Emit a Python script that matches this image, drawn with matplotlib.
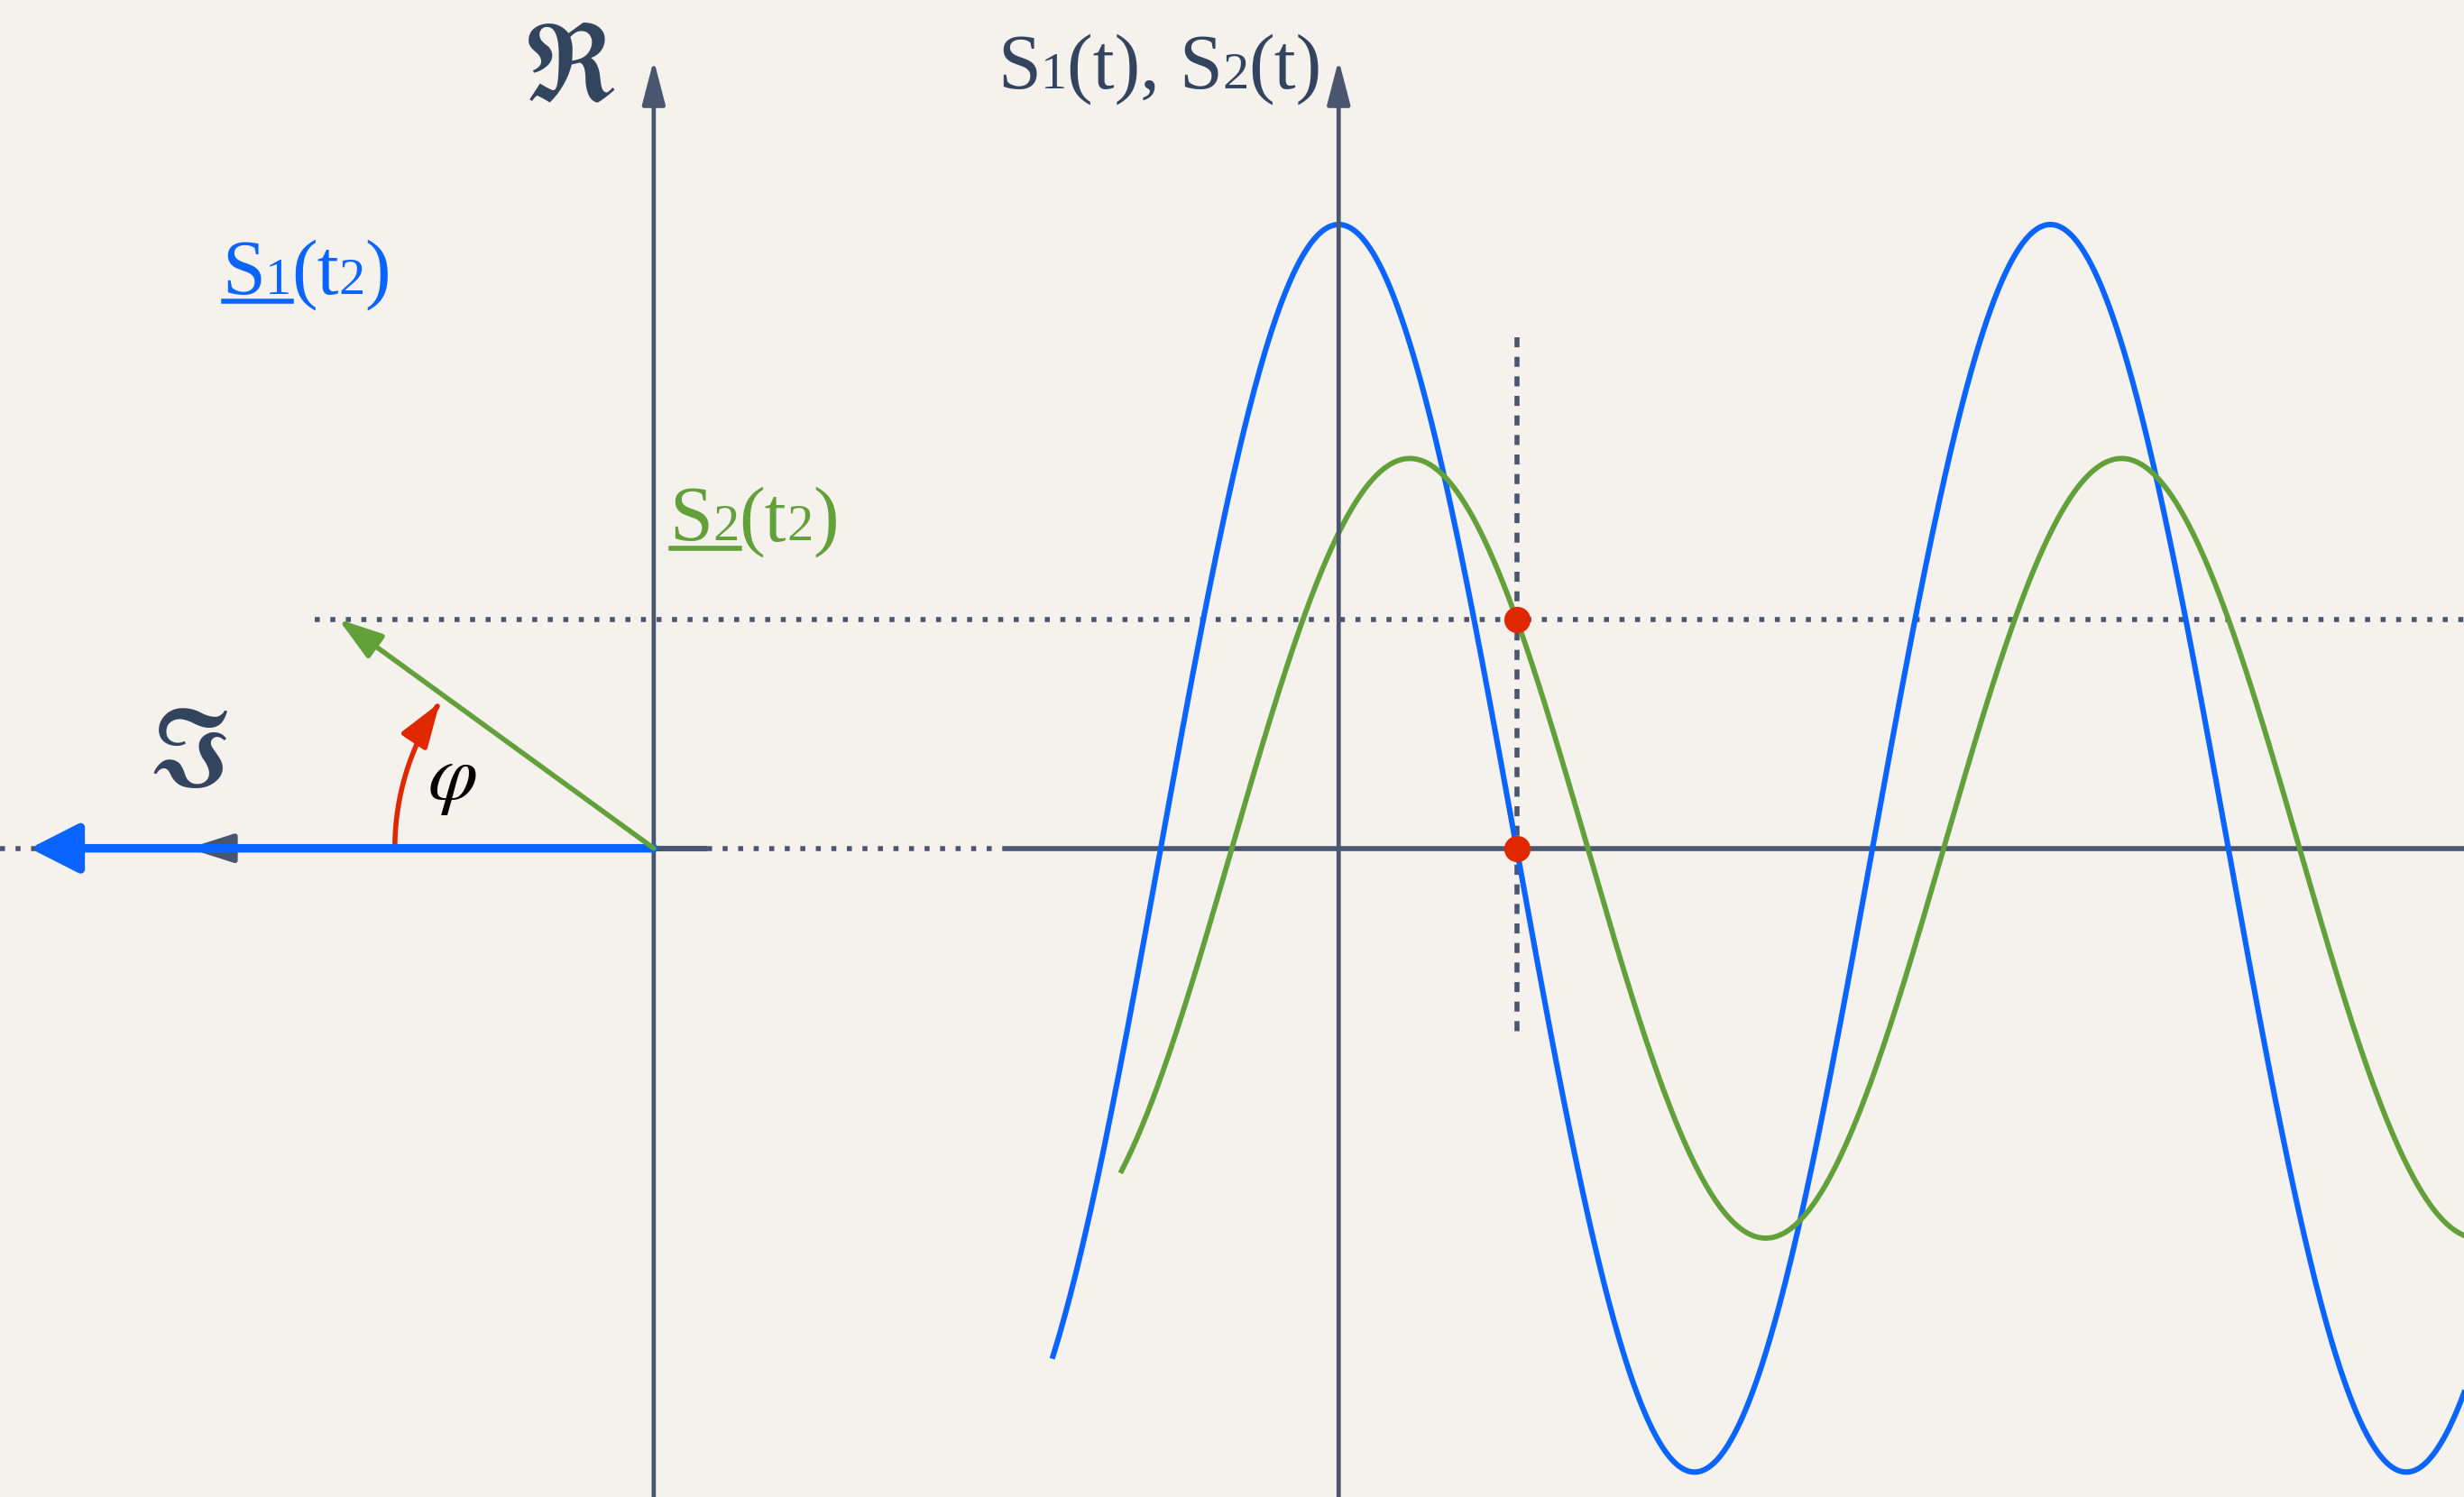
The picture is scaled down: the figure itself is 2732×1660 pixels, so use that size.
import numpy as np
import matplotlib.pyplot as plt
from matplotlib.patches import FancyArrowPatch
from matplotlib.path import Path
from matplotlib.lines import Line2D
from matplotlib.offsetbox import TextArea, HPacker, AnnotationBbox

# signal parameters (amplitude of S1 = 1 unit)
A1 = 1.0
A2 = 0.625
phi_deg = 36.0
T = 1.141
t_s1 = (-0.458, 1.804)
t_s2 = (-0.348, 1.804)

# labels
lbl_re = r'$\mathfrak{R}$'
lbl_im = r'$\mathfrak{I}$'
lbl_phi = r'$\varphi$'
lbl_axis = [('S', 1), ('1', 0), ('(t), ', 1), ('S', 1), ('2', 0), ('(t)', 1)]
lbl_s1 = [('S', 1), ('1', 0), ('(t', 1), ('2', 0), (')', 1)]
lbl_s2 = [('S', 1), ('2', 0), ('(t', 1), ('2', 0), (')', 1)]

bg = '#f5f2ed'
dark = '#4a5670'
navy = '#33445f'
blue = '#0a64ff'
green = '#62a03a'
red = '#e02800'

# layout
x0 = -1.098          # origin of the phasor diagram
xmin, xmax = -2.146, 1.804
ymin, ymax = -1.040, 1.360
ytip = 1.264

fig = plt.figure(figsize=(13.66, 8.30), dpi=200, facecolor=bg)
ax = fig.add_axes([0, 0, 1, 1])
ax.set_facecolor(bg)
ax.set_xlim(xmin, xmax)
ax.set_ylim(ymin, ymax)
ax.axis('off')

w = 2 * np.pi / T
phi = np.deg2rad(phi_deg)
t2 = T / 4
s2_t2 = A2 * np.cos(w * t2 - phi)

dotted = dict(color=dark, lw=2.0, dashes=(1.0, 2.1), dash_capstyle='butt')

# vertical axes
axstyle = dict(arrowstyle='-|>,head_length=0.5,head_width=0.13', color=dark,
               lw=1.7, mutation_scale=30, shrinkA=0, shrinkB=0)
ax.annotate('', xy=(x0, ytip), xytext=(x0, ymin), arrowprops=axstyle)
ax.annotate('', xy=(0, ytip), xytext=(0, ymin), arrowprops=axstyle)

# horizontal axis pieces
xim = -1.844
ax.plot([xmin, xim], [0, 0], **dotted)
ax.annotate('', xy=(xim, 0), xytext=(x0, 0),
            arrowprops=dict(arrowstyle='-|>,head_length=0.5,head_width=0.16',
                            color=dark, lw=2.2, mutation_scale=30, shrinkA=0, shrinkB=0))
ax.plot([x0, -1.013], [0, 0], color=dark, lw=2.2, solid_capstyle='butt')
ax.plot([-1.013, -0.534], [0, 0], **dotted)
ax.plot([-0.534, xmax], [0, 0], color=dark, lw=2.0, solid_capstyle='butt')

# dotted guides at t2
ax.plot([-1.642, xmax], [s2_t2, s2_t2], **dotted)
ax.plot([t2, t2], [0.819, -0.302], color=dark, lw=2.0, dashes=(2.0, 1.9))

# curves
t = np.linspace(t_s1[0], t_s1[1], 800)
ax.plot(t, A1 * np.cos(w * t), color=blue, lw=2.2)
t = np.linspace(t_s2[0], t_s2[1], 800)
ax.plot(t, A2 * np.cos(w * t - phi), color=green, lw=2.1)

# phasors
ax.annotate('', xy=(x0 - A1, 0), xytext=(x0, 0),
            arrowprops=dict(arrowstyle='-|>,head_length=0.55,head_width=0.28',
                            color=blue, lw=3.4, mutation_scale=30, shrinkA=0, shrinkB=0))
ax.annotate('', xy=(x0 - A2 * np.cos(phi), A2 * np.sin(phi)), xytext=(x0, 0),
            arrowprops=dict(arrowstyle='-|>,head_length=0.5,head_width=0.16',
                            color=green, lw=2.0, mutation_scale=30, shrinkA=0, shrinkB=0))

# angle arc
r = 0.415
ang = np.deg2rad(np.linspace(180, 180 - phi_deg * 0.95, 40))
arc = Path(np.column_stack([x0 + r * np.cos(ang), r * np.sin(ang)]))
ax.add_patch(FancyArrowPatch(path=arc, arrowstyle='-|>,head_length=0.5,head_width=0.17',
                             color=red, lw=2.0, mutation_scale=30))

# sample points
ax.plot([t2, t2], [s2_t2, 0], 'o', color=red, ms=9.5, zorder=5)

# text
serif = ['Liberation Serif', 'DejaVu Serif']
ax.text(-1.234, 1.247, lbl_re, color=navy, fontsize=44, ha='center', va='center',
        math_fontfamily='stix')
ax.text(-1.844, 0.151, lbl_im, color=navy, fontsize=44, ha='center', va='center',
        math_fontfamily='stix')
ax.text(-1.421, 0.113, lbl_phi, color='black', fontsize=32, ha='center', va='center',
        math_fontfamily='stix')


def label(parts, xy, color):
    boxes = []
    for s, big in parts:
        boxes.append(TextArea(s, textprops=dict(color=color, family=serif,
                                                size=31 if big else 21)))
    pack = HPacker(children=boxes, align='baseline', pad=0, sep=0)
    ab = AnnotationBbox(pack, xy, frameon=False, box_alignment=(0.5, 0.5),
                        pad=0, xycoords='data')
    ax.add_artist(ab)
    return boxes


axis_boxes = label(lbl_axis, (-0.287, 1.249), navy)
s1_boxes = label(lbl_s1, (-1.655, 0.919), blue)
s2_boxes = label(lbl_s2, (-0.937, 0.524), green)

fig.canvas.draw()
rend = fig.canvas.get_renderer()
for boxes, col in [(s1_boxes, blue), (s2_boxes, green)]:
    b0 = boxes[0].get_window_extent(rend)
    b1 = boxes[1].get_window_extent(rend)
    y = b0.y0 + 0.13 * b0.height
    fig.add_artist(Line2D([b0.x0 + 2, b1.x1], [y, y], color=col, lw=2.0,
                          transform=None))

fig.savefig('out.png', dpi=200, facecolor=bg)
